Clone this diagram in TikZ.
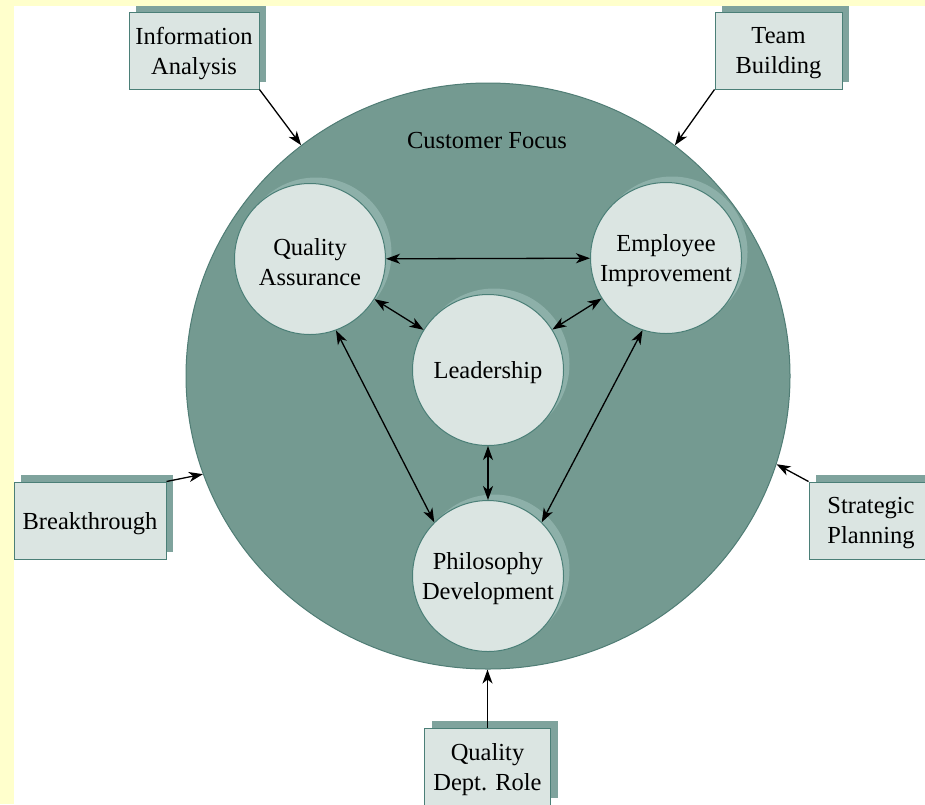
\documentclass[tikz,border=0pt]{standalone}
\usepackage{fontspec}
\setmainfont{Liberation Serif}
\usetikzlibrary{shapes.geometric,shadows,arrows.meta}
\definecolor{bgyellow}{RGB}{255,255,204}
\definecolor{bigfill}{RGB}{116,154,145}
\definecolor{bigdraw}{RGB}{80,125,117}
\definecolor{lightfill}{RGB}{219,229,226}
\definecolor{nodedraw}{RGB}{75,127,119}
\definecolor{boxshadow}{RGB}{127,163,157}
\definecolor{circshadow}{RGB}{141,176,169}
\tikzset{
  txt/.style={font=\fontsize{24.5}{30}\selectfont, align=center, text=black, inner sep=0pt},
  lbl/.style={label={[txt, yshift=-3pt]center:{#1}}},
  box/.style={rectangle, fill=lightfill, draw=nodedraw, line width=1pt, inner sep=0pt,
    copy shadow={shadow xshift=7pt, shadow yshift=7pt, fill=boxshadow, draw=none}},
  topic/.style={circle, fill=lightfill, draw=nodedraw, line width=1pt, inner sep=0pt,
    minimum size=151pt,
    copy shadow={shadow xshift=6pt, shadow yshift=6pt, fill=circshadow, draw=none}},
  tip/.style={Stealth[length=14pt,width=10pt,inset=4pt]},
  conn/.style={line width=1.3pt, -{Stealth[length=14pt,width=10pt,inset=4pt]}},
  bconn/.style={line width=1.3pt, {Stealth[length=14pt,width=10pt,inset=4pt]}-{Stealth[length=14pt,width=10pt,inset=4pt]}}
}
\begin{document}
\begin{tikzpicture}[x=1pt,y=-1pt]
\useasboundingbox (0,0) rectangle (925,804);
\fill[white] (0,0) rectangle (925,804);
% big circle
\node[ellipse, fill=bigfill, draw=bigdraw, line width=1pt, minimum width=604pt, minimum height=586pt, inner sep=0pt] (big) at (488,376) {};
\node[txt] (cf) at (487,141) {Customer Focus};
% inner circles
\node[topic, lbl={Quality\\Assurance}] (qa) at (310,259) {};
\node[topic, lbl={Employee\\Improvement}] (ei) at (666,258) {};
\node[topic, lbl={Leadership}] (ld) at (488,370) {};
\node[topic, lbl={Philosophy\\Development}] (pd) at (488,576) {};
% boxes
\node[box, minimum width=130pt, minimum height=77pt, lbl={Information\\Analysis}] (ia) at (194,50.5) {};
\node[box, minimum width=127pt, minimum height=77pt, lbl={Team\\Building}] (tb) at (778.5,50.5) {};
\node[box, minimum width=152pt, minimum height=77pt, lbl={Breakthrough}] (bt) at (90,520.5) {};
\node[box, minimum width=124pt, minimum height=77pt, lbl={Strategic\\Planning}] (sp) at (871,520.5) {};
\node[box, minimum width=126pt, minimum height=77pt, lbl={Quality\\Dept. Role}] (qd) at (487.5,766.5) {};
% yellow bands
\fill[bgyellow] (0,0) rectangle (925,6);
\fill[bgyellow] (0,0) rectangle (14,804);
% outer arrows
\draw[conn] (ia.south east) -- (big.129);
\draw[conn] (tb.south west) -- (big.51.5);
\draw[conn] (bt.north east) -- (big.-161.6);
\draw[conn] (sp.north west) -- (big.-17.8);
\draw[conn] (qd.north) -- (qd.north |- big.south);
% inner arrows
\draw[bconn] (qa) -- (ei);
\draw[bconn] (qa) -- (ld);
\draw[bconn] (ei) -- (ld);
\draw[bconn] (ld) -- (pd);
\draw[bconn] (qa.-70) -- (pd.135);
\draw[bconn] (ei.-108) -- (pd.45);
\end{tikzpicture}
\end{document}
